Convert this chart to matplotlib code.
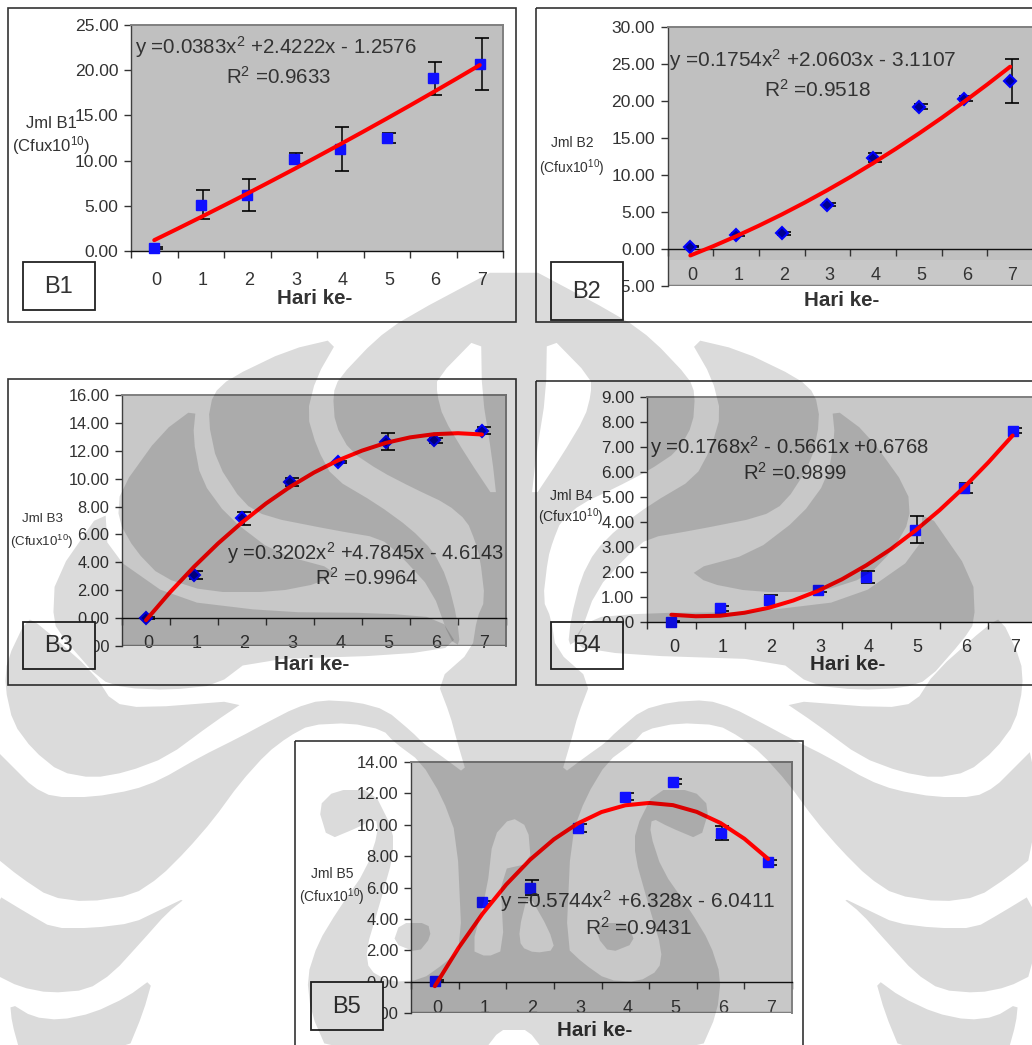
import matplotlib
matplotlib.use("Agg")
import matplotlib.pyplot as plt
from matplotlib.patches import PathPatch, Rectangle
from matplotlib.path import Path
import numpy as np

plt.rcParams["font.family"] = ["Liberation Sans", "DejaVu Sans"]
plt.rcParams["mathtext.fontset"] = "custom"
plt.rcParams["mathtext.rm"] = "Liberation Sans"
plt.rcParams["mathtext.default"] = "rm"

W, H = 1032, 1045

# --- values ---
days = [0, 1, 2, 3, 4, 5, 6, 7]
trend_days = [0, 0.5, 1, 1.5, 2, 2.5, 3, 3.5, 4, 4.5, 5, 5.5, 6, 6.5, 7]

b1_y = [0.3, 5.1, 6.2, 10.2, 11.3, 12.5, 19.1, 20.7]
b1_err = [0.1, 1.6, 1.75, 0.6, 2.4, 0.5, 1.8, 2.9]
b1_trend = [1.20, 2.46, 3.74, 5.04, 6.35, 7.69, 9.04, 10.42, 11.81, 13.22, 14.65, 16.10, 17.57, 19.06, 20.57]

b2_y = [0.3, 1.9, 2.15, 6.0, 12.3, 19.2, 20.3, 22.7]
b2_err = [0.05, 0.2, 0.2, 0.2, 0.6, 0.3, 0.3, 2.95]
b2_trend = [-0.88, 0.37, 1.71, 3.14, 4.65, 6.25, 7.94, 9.71, 11.58, 13.53, 15.57, 17.69, 19.91, 22.21, 24.60]

b3_y = [0.0, 3.1, 7.15, 9.75, 11.2, 12.65, 12.75, 13.45]
b3_err = [0.05, 0.3, 0.45, 0.3, 0.1, 0.6, 0.2, 0.25]
b3_trend = [-0.15, 1.85, 3.68, 5.35, 6.86, 8.22, 9.41, 10.44, 11.31, 12.01, 12.57, 12.96, 13.19, 13.26, 13.17]

b4_y = [0.02, 0.55, 0.9, 1.3, 1.8, 3.7, 5.35, 7.65]
b4_err = [0.02, 0.1, 0.2, 0.1, 0.25, 0.55, 0.2, 0.1]
b4_trend = [0.29, 0.23, 0.25, 0.37, 0.57, 0.86, 1.24, 1.71, 2.27, 2.91, 3.65, 4.47, 5.38, 6.38, 7.46]

b5_y = [0.05, 5.05, 6.0, 9.8, 11.8, 12.75, 9.45, 7.6]
b5_err = [0.05, 0.1, 0.45, 0.25, 0.2, 0.15, 0.45, 0.15]
b5_trend = [-0.29, 2.16, 4.32, 6.19, 7.77, 9.07, 10.08, 10.81, 11.24, 11.39, 11.25, 10.82, 10.11, 9.11, 7.82]

b1_ticks = [0, 5, 10, 15, 20, 25]
b2_ticks = [-5, 0, 5, 10, 15, 20, 25, 30]
b3_ticks = [-2, 0, 2, 4, 6, 8, 10, 12, 14, 16]
b4_ticks = [0, 1, 2, 3, 4, 5, 6, 7, 8, 9]
b5_ticks = [-2, 0, 2, 4, 6, 8, 10, 12, 14]

TEXT = "#333333"
fig = plt.figure(figsize=(W / 100, H / 100), dpi=100, facecolor="white")


def make_axes(left, top, right, bottom, ylim, ticks, bg):
    ax = fig.add_axes([left / W, 1 - bottom / H, (right - left) / W, (bottom - top) / H], facecolor=bg)
    ax.set_xlim(-0.5, 7.5)
    ax.set_ylim(*ylim)
    for s in ["top", "right", "left"]:
        ax.spines[s].set_color("#808080")
        ax.spines[s].set_linewidth(1.4)
    ax.spines["left"].set_color("#404040")
    ax.spines["left"].set_linewidth(1)
    ax.spines["bottom"].set_position(("data", 0))
    ax.spines["bottom"].set_color("#111111")
    ax.spines["bottom"].set_linewidth(1)
    if ylim[0] < 0:
        ax.axhline(ylim[0], color="#808080", lw=2.5)
    ax.set_yticks(ticks)
    ax.set_yticklabels(["%.2f" % t for t in ticks])
    ax.set_xticks(np.arange(-0.5, 8, 1))
    ax.set_xticklabels([])
    return ax


def draw_panel(ax, y, err, trend, marker, tick_size, label_pad):
    x = np.array(days)
    ax.tick_params(axis="y", length=5, width=1, pad=4, labelsize=tick_size, labelcolor=TEXT, color="#333333")
    ax.tick_params(axis="x", which="major", length=5, width=1, color="#333333")
    ax.set_xticks(x + 0.05, [str(d) for d in days], minor=True)
    ax.tick_params(axis="x", which="minor", length=0, pad=label_pad, labelsize=13, labelcolor=TEXT)
    ax.errorbar(x + 0.04, y, yerr=err, fmt="none", ecolor="black", elinewidth=1.1, capsize=5, capthick=1.2, zorder=3, clip_on=False)
    if marker == "s":
        ax.plot(x, y, ls="none", marker="s", ms=7.6, mfc="#1010ff", mec="#1010ff", zorder=4, clip_on=False)
    else:
        ax.plot(x, y, ls="none", marker="D", ms=6.2, mfc="#000090", mec="#0000ff", mew=1.5, zorder=4, clip_on=False)
    ax.plot(trend_days, trend, color="#ff0000", lw=2.9, zorder=5, clip_on=False, solid_capstyle="round")


ax1 = make_axes(131, 25, 503, 251, (0, 25), b1_ticks, "#c0c0c0")
draw_panel(ax1, b1_y, b1_err, b1_trend, "s", 12.6, 15)
ax2 = make_axes(667.5, 26.7, 1033, 286, (-5, 30), b2_ticks, "#c0c0c0")
ax2.axhspan(-5, -1.45, color="#c8c8c8", lw=0, zorder=0)
draw_panel(ax2, b2_y, b2_err, b2_trend, "D", 12.6, 13)
ax3 = make_axes(122, 395, 506, 646, (-2, 16), b3_ticks, "#c8c8c8")
draw_panel(ax3, b3_y, b3_err, b3_trend, "D", 11.8, 12)
ax4 = make_axes(647, 397, 1037, 622, (0, 9), b4_ticks, "#c8c8c8")
draw_panel(ax4, b4_y, b4_err, b4_trend, "s", 12.3, 12)
ax5 = make_axes(411, 762, 792, 1013, (-2, 14), b5_ticks, "#c8c8c8")
draw_panel(ax5, b5_y, b5_err, b5_trend, "s", 12, 13)

# page layer in pixel coordinates, above the plots
page = fig.add_axes([0, 0, 1, 1], zorder=10, facecolor="none")
page.set_xlim(0, W)
page.set_ylim(H, 0)
page.axis("off")

for l, t, r, b in [(8, 8, 516, 322), (536, 8, 1040, 322), (8, 379, 516, 685), (536, 381, 1040, 685), (295, 741, 803, 1060)]:
    page.add_patch(Rectangle((l, t), r - l, b - t, fill=False, ec="#333333", lw=1.2))

boxes = [("B1", 23, 262, 95, 310), ("B2", 551, 262, 623, 320), ("B3", 23, 622, 95, 669),
         ("B4", 551, 622, 623, 669), ("B5", 311, 982, 383, 1030)]
for name, l, t, r, b in boxes:
    page.add_patch(Rectangle((l, t), r - l, b - t, fc="white", ec="#222222", lw=1.3, zorder=3))
    page.text((l + r) / 2, (t + b) / 2 + 1, name, fontsize=17, color=TEXT, ha="center", va="center", zorder=4)

equations = [
    ("y =0.0383x$^2$ +2.4222x - 1.2576", 135, 47, "R$^2$ =0.9633", 278, 77, 14.8),
    ("y =0.1754x$^2$ +2.0603x - 3.1107", 669, 60, "R$^2$ =0.9518", 817, 90, 15),
    ("y =0.3202x$^2$ +4.7845x - 4.6143", 227, 553, "R$^2$ =0.9964", 367, 578, 14.5),
    ("y =0.1768x$^2$ - 0.5661x +0.6768", 650, 447, "R$^2$ =0.9899", 795, 473, 14.6),
    ("y =0.5744x$^2$ +6.328x - 6.0411", 500, 901, "R$^2$ =0.9431", 638, 928, 15),
]
for eq, ex, ey, r2, rx, ry, size in equations:
    page.text(ex, ey, eq, fontsize=size, color=TEXT, ha="left", va="center", zorder=4)
    page.text(rx, ry, r2, fontsize=size, color=TEXT, ha="center", va="center", zorder=4)

y_labels = [
    ("Jml B1", 51, 123, 146, 12), ("Jml B2", 572, 143, 168, 10), ("Jml B3", 42, 519, 542, 9.6),
    ("Jml B4", 571, 496, 517, 10), ("Jml B5", 332, 874, 897, 10),
]
for name, lx, y1, y2, size in y_labels:
    page.text(lx, y1, name, fontsize=size, color=TEXT, ha="center", va="center", zorder=4)
    page.text(lx, y2, "(Cfux10$^{10}$)", fontsize=size, color=TEXT, ha="center", va="center", zorder=4)

for hx, hy in [(315, 299), (842, 300), (312, 665), (848, 664), (595, 1030)]:
    page.text(hx, hy, "Hari ke-", fontsize=14.8, fontweight="bold", color=TEXT, ha="center", va="center", zorder=4)

# watermark logo traced by hand, left half and its mirror around x = 514
CX = 514


def mirror(pts):
    return [(2 * CX - x, y) for x, y in pts]


def smooth(pts, rounds=1, r=0.22):
    # corner cutting so the traced outlines are not so angular
    pts = np.array(pts, dtype=float)
    for _ in range(rounds):
        nxt = np.roll(pts, -1, axis=0)
        pts = np.column_stack([(1 - r) * pts + r * nxt, r * pts + (1 - r) * nxt]).reshape(-1, 2)
    return pts


def ring(pts, ccw):
    pts = smooth(pts)
    area = np.sum(pts[:-1, 0] * pts[1:, 1] - pts[1:, 0] * pts[:-1, 1]) + pts[-1, 0] * pts[0, 1] - pts[0, 0] * pts[-1, 1]
    if (area > 0) != ccw:
        pts = pts[::-1]
    return Path(np.vstack([pts, pts[0]]), closed=True)


def logo_patch(outer, holes=()):
    parts = [ring(outer, True)] + [ring(h, False) for h in holes]
    path = Path.make_compound_path(*parts)
    page.add_patch(PathPatch(path, fc="black", ec="none", alpha=0.14, zorder=6))


main_left = [
    (514, 260), (405, 318), (375, 340), (339, 378), (333, 394), (335, 424), (350, 451), (380, 471),
    (413, 488), (447, 504), (467, 521), (475, 541), (480, 558), (485, 600), (477, 618), (472, 650),
    (437, 681), (450, 715), (457, 741), (467, 775), (440, 755), (423, 743), (412, 732), (386, 710),
    (357, 702), (321, 700), (295, 708), (266, 723), (240, 737), (200, 757), (160, 780), (133, 790),
    (93, 797), (53, 797), (33, 787), (13, 767), (-6, 748), (-6, 856), (20, 877), (50, 897), (87, 902),
    (133, 895), (160, 877), (187, 850), (213, 820), (240, 783), (267, 753), (288, 737), (310, 725),
    (350, 723), (383, 730), (394, 742), (421, 762), (442, 797), (457, 837), (462, 947), (445, 963),
    (421, 980), (390, 982), (369, 970), (366, 950), (380, 903), (393, 857), (393, 830), (373, 790),
    (335, 790), (318, 807), (328, 840), (359, 827), (376, 818), (378, 833), (366, 870), (338, 910),
    (318, 943), (307, 977), (311, 1013), (328, 1052), (483, 1052), (500, 1030), (514, 1030),
]
main_outline = main_left + mirror(main_left)[::-1][1:-1]
wedge = [(481, 333), (437, 378), (437, 394), (443, 417), (467, 457), (497, 502), (492, 457), (482, 394)]
hole_a = [(493, 837), (511, 817), (528, 827), (531, 863), (500, 870), (504, 950), (487, 957), (471, 950), (487, 890)]
hole_b = [(519, 930), (528, 893), (549, 930), (555, 950), (535, 953), (521, 947)]
dot = [(600, 923), (628, 923), (635, 943), (610, 953), (597, 937)]
logo_patch(main_outline, [wedge, mirror(wedge), hole_a, hole_b, dot, mirror(dot)])

side_shapes = [
    # long band left of the crown
    [(339, 338), (288, 350), (230, 378), (213, 394), (208, 420), (217, 463), (243, 503), (267, 517),
     (333, 530), (380, 538), (400, 555), (432, 590), (450, 640), (460, 646), (457, 618), (447, 578),
     (433, 551), (410, 528), (377, 504), (333, 478), (317, 448), (307, 414), (316, 378)],
    # big leaf
    [(196, 407), (161, 433), (120, 490), (118, 520), (135, 550), (161, 577), (208, 592), (275, 592),
     (321, 583), (338, 570), (275, 553), (228, 517), (201, 480), (193, 437)],
    # outer leaf running under the plots
    [(105, 505), (108, 553), (175, 600), (275, 612), (380, 613), (440, 618), (458, 646), (400, 655),
     (250, 660), (217, 685), (170, 690), (125, 688), (100, 680), (65, 640), (53, 622), (55, 577)],
    # lower swooshes
    [(27, 618), (40, 625), (93, 672), (113, 703), (143, 708), (247, 700), (213, 723), (167, 757),
     (127, 772), (93, 778), (60, 772), (33, 750), (13, 723), (5, 687), (7, 660)],
    [(187, 897), (160, 910), (133, 923), (93, 928), (53, 928), (27, 913), (-6, 893), (-6, 974), (20, 987),
     (50, 993), (87, 990), (113, 973), (143, 940), (167, 913)],
    [(153, 978), (127, 997), (93, 1013), (60, 1020), (33, 1017), (10, 1003), (12, 1023), (20, 1052),
     (127, 1052), (143, 1013)],
]
for shape in side_shapes:
    logo_patch(shape)
    logo_patch(mirror(shape))

fig.savefig("out.png", dpi=100)
